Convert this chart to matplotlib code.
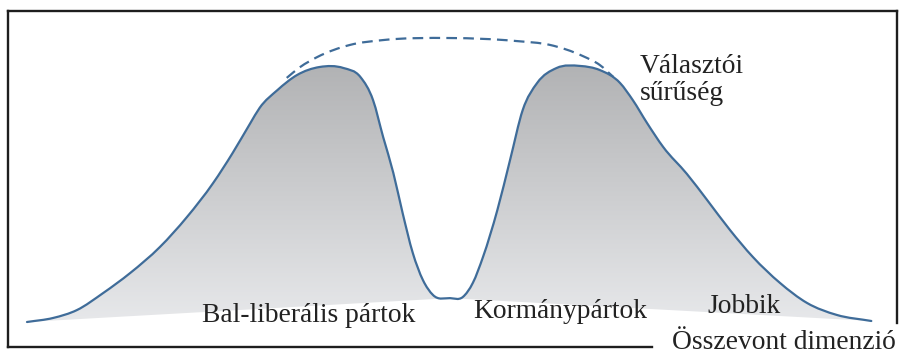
import numpy as np
import matplotlib
matplotlib.use("Agg")
import matplotlib.pyplot as plt
from matplotlib.path import Path
from matplotlib.patches import PathPatch
from matplotlib.lines import Line2D

# ---- data: voter density along the combined dimension (0-100), density scaled to peak = 1
dim_pos = [0.0, 3.1, 5.9, 9.0, 12.2, 15.7, 18.9, 22.0, 24.3, 26.4, 27.5, 29.6, 31.9,
           34.6, 37.4, 39.4, 40.9, 42.1, 43.3, 44.4, 45.6, 46.8, 48.0, 50.0, 51.5,
           52.7, 53.9, 55.6, 57.1, 58.6, 60.3, 62.6, 65.4, 67.7, 70.1, 71.6, 73.3,
           75.2, 78.0, 80.4, 83.1, 85.8, 89.0, 92.2, 95.7, 99.8]
density = [0.000, 0.016, 0.047, 0.114, 0.193, 0.295, 0.413, 0.547, 0.665, 0.783,
           0.843, 0.913, 0.972, 1.004, 1.000, 0.965, 0.874, 0.728, 0.587, 0.429,
           0.272, 0.165, 0.106, 0.094, 0.098, 0.154, 0.256, 0.441, 0.638, 0.835,
           0.941, 1.000, 1.008, 0.992, 0.941, 0.874, 0.783, 0.689, 0.583, 0.480,
           0.362, 0.256, 0.154, 0.075, 0.028, 0.004]
# lower edge of the shaded area
base_pos = [0.0, 50.0, 99.8]
base_val = [0.0, 0.094, 0.004]
# dashed unimodal envelope
env_pos = [30.7, 32.3, 34.3, 38.2, 42.1, 50.0, 57.9, 61.8, 65.7, 67.7, 69.3]
env_val = [0.961, 1.004, 1.043, 1.091, 1.110, 1.118, 1.106, 1.091, 1.047, 1.012, 0.965]

labels = ["Bal-liberális pártok", "Kormánypártok", "Jobbik"]
ylabel_txt = "Választói\nsűrűség"
xlabel_txt = "Összevont dimenzió"

LINE = "#3f6c99"
FONT = ["Liberation Serif", "DejaVu Serif"]
TXT = "#222222"


def smooth_bezier(xs, ys):
    """Cubic Hermite with three-point (parabolic) tangents -> Bezier path through points."""
    x = np.asarray(xs, float)
    y = np.asarray(ys, float)
    h = np.diff(x)
    d = np.diff(y) / h
    n = len(x)
    m = np.zeros(n)
    m[0], m[-1] = d[0], d[-1]
    for i in range(1, n - 1):
        m[i] = (d[i - 1] * h[i] + d[i] * h[i - 1]) / (h[i - 1] + h[i])
    verts = [(x[0], y[0])]
    codes = [Path.MOVETO]
    for i in range(n - 1):
        verts += [(x[i] + h[i] / 3, y[i] + m[i] * h[i] / 3),
                  (x[i + 1] - h[i] / 3, y[i + 1] - m[i + 1] * h[i] / 3),
                  (x[i + 1], y[i + 1])]
        codes += [Path.CURVE4] * 3
    return verts, codes


fig = plt.figure(figsize=(9.04, 3.54), dpi=100)
ax = fig.add_axes([0, 0, 1, 1])
ax.set_xlim(-27 / 8.46, (904 - 27) / 8.46)
ax.set_ylim((322 - 354) / 254, 322 / 254)
ax.axis("off")

# shaded area with gradient
cv, cc = smooth_bezier(dim_pos, density)
fill_verts = list(cv) + list(zip(base_pos[::-1], base_val[::-1])) + [cv[0]]
fill_codes = list(cc) + [Path.LINETO] * len(base_pos) + [Path.CLOSEPOLY]
fill_patch = PathPatch(Path(fill_verts, fill_codes), facecolor="none", edgecolor="none")
ax.add_patch(fill_patch)
gy = np.linspace(0, 1, 256)[:, None]
gx = np.linspace(0, 1, 128)[None, :]
g = 0.705 + 0.215 * gy + 0.0 * gx
img = np.clip(np.dstack([g * 0.985, g * 0.99, g]), 0, 1)
im = ax.imshow(img, extent=[0, 100, 0, 1.02], origin="upper", aspect="auto",
               interpolation="bilinear", zorder=1)
im.set_clip_path(fill_patch)

# density curve
ax.add_patch(PathPatch(Path(cv, cc), facecolor="none", edgecolor=LINE, lw=1.6,
                       zorder=3, capstyle="round", joinstyle="round"))
# dashed envelope
ev, ec = smooth_bezier(env_pos, env_val)
ax.add_patch(PathPatch(Path(ev, ec), facecolor="none", edgecolor=LINE, lw=1.6,
                       linestyle=(0, (4.8, 2.8)), zorder=3))

# frame (figure pixel positions)
W, H = 904, 354


def fl(x0, y0, x1, y1):
    fig.add_artist(Line2D([x0 / W, x1 / W], [1 - y0 / H, 1 - y1 / H], color="#1e1e1e",
                          lw=1.7, solid_capstyle="projecting"))


fl(8, 11, 897, 11)
fl(8, 11, 8, 347)
fl(897, 11, 897, 323)
fl(8, 347, 652, 347)

# texts
fs = 19.8
kw = dict(fontsize=fs, family=FONT, color=TXT, ha="left", va="baseline")
fig.text(202 / W, 1 - 322 / H, labels[0], **kw)
fig.text(473 / W, 1 - 318 / H, labels[1], **kw)
fig.text(707 / W, 1 - 313 / H, labels[2], **kw)
yl1, yl2 = ylabel_txt.split("\n")
fig.text(640 / W, 1 - 73 / H, yl1, **kw)
fig.text(640 / W, 1 - 100 / H, yl2, **kw)
fig.text(672 / W, 1 - 349 / H, xlabel_txt, **kw)

fig.savefig("out.png", dpi=100)
